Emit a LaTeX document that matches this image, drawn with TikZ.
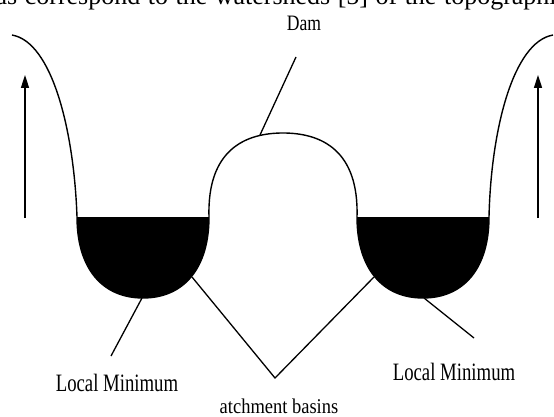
\documentclass[tikz,border=0pt]{standalone}
\usepackage{fontspec}
\setmainfont{Liberation Serif}
\newfontfamily\labelfont{Liberation Serif}[FakeStretch=0.75]
\newfontfamily\damfont{Liberation Serif}[FakeStretch=0.8]
\newfontfamily\basinfont{Liberation Serif}[FakeStretch=0.88]
\usetikzlibrary{arrows.meta}
\begin{document}
\begin{tikzpicture}[x=1pt,y=-1pt,
  profile/.style={line width=1.4pt},
  leader/.style={line width=1.3pt},
  upArrow/.style={line width=1.6pt,-{Triangle[width=8pt,length=13pt]}},
  lbl/.style={inner sep=0pt,font=\labelfont\fontsize{25}{28}\selectfont},
]
\useasboundingbox (0,0) rectangle (554,417);
\clip (0,0) rectangle (554,417);
% cut-off line of running text above the figure
\node[anchor=base west,inner sep=0pt,font=\fontsize{26}{28}\selectfont] (runtext) at (-6,4.5)
  {\makebox[574pt][s]{ds correspond to the watersheds [5] of the topographic}};
% key points
\coordinate (lt) at (12,35);
\coordinate (lb1) at (77,217);
\coordinate (lb2) at (209,217);
\coordinate (rb1) at (357,217);
\coordinate (rb2) at (489,217);
\coordinate (rt) at (553,35);
% water in basins
\fill (lb1) .. controls (77,268) and (102,298) .. (143,298) .. controls (184,298) and (209,268) .. (lb2) -- cycle;
\fill (rb1) .. controls (357,268) and (382,298) .. (423,298) .. controls (464,298) and (489,268) .. (rb2) -- cycle;
% topographic profile
\draw[profile] (lt) .. controls (52,42) and (74,130) .. (lb1)
  .. controls (77,268) and (102,298) .. (143,298)
  .. controls (184,298) and (209,268) .. (lb2)
  .. controls (207,150) and (245,133) .. (283,133)
  .. controls (321,133) and (359,150) .. (rb1)
  .. controls (357,268) and (382,298) .. (423,298)
  .. controls (464,298) and (489,268) .. (rb2)
  .. controls (491,130) and (513,42) .. (rt);
% arrows
\coordinate (la0) at (25,218); \coordinate (la1) at (25,75);
\coordinate (ra0) at (538,218); \coordinate (ra1) at (538,75);
\draw[upArrow] (la0) -- (la1);
\draw[upArrow] (ra0) -- (ra1);
% labels
\node[inner sep=0pt,font=\damfont\fontsize{22}{25}\selectfont] (dam) at (304,23) {Dam};
\node[lbl] (lmL) at (117,383) {Local Minimum};
\node[lbl] (lmR) at (454,372) {Local Minimum};
\node[anchor=base,inner sep=0pt,font=\basinfont\fontsize{21}{24}\selectfont] (cb) at (279,413) {atchment basins};
% leaders
\coordinate (damA) at (296,57); \coordinate (damB) at (260,135);
\draw[leader] (damA) -- (damB);
\coordinate (lmLA) at (142,298); \coordinate (lmLB) at (111,356);
\draw[leader] (lmLA) -- (lmLB);
\coordinate (lmRA) at (424,298); \coordinate (lmRB) at (474,338);
\draw[leader] (lmRA) -- (lmRB);
\coordinate (cbL) at (192,277); \coordinate (cbV) at (275,378); \coordinate (cbR) at (374,277);
\draw[leader] (cbL) -- (cbV) -- (cbR);
\end{tikzpicture}
\end{document}
